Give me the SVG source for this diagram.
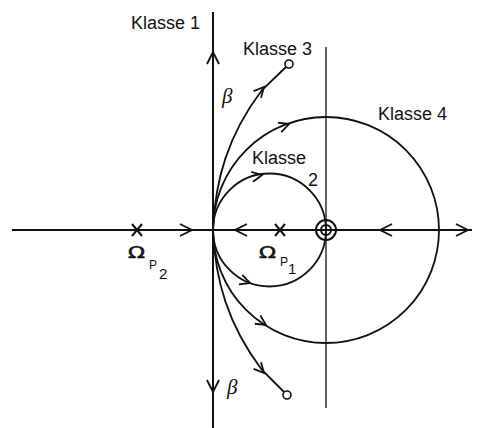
<svg xmlns="http://www.w3.org/2000/svg" xmlns:xlink="http://www.w3.org/1999/xlink" width="479" height="428" viewBox="0 0 479 428">
<style>
.ax{stroke:#111;stroke-width:2;fill:none}
.thin{stroke:#111;stroke-width:1.3;fill:none}
.cv{stroke:#111;stroke-width:1.8;fill:none}
.chev{stroke:#111;stroke-width:1.8;fill:none;stroke-linejoin:miter}
.lbl{font-family:"Liberation Sans",Arial,sans-serif;font-size:18px;fill:#111}
.beta{font-family:"Liberation Serif","Times New Roman",serif;font-style:italic;font-size:21px;fill:#111}
.om{font-family:"DejaVu Sans",sans-serif;font-size:15.5px;fill:#111;stroke:#111;stroke-width:0.5}
.sub{font-family:"Liberation Sans",Arial,sans-serif;font-size:12px;fill:#111}
.sub2{font-family:"Liberation Sans",Arial,sans-serif;font-size:15px;fill:#111}
</style>
<defs>
<path id="chv" d="M-12,-6 L0,0 L-12,6"/>
<path id="chs" d="M-10,-5 L0,0 L-10,5"/>
<path id="xm" d="M-5,-6 L5,6 M-5,6 L5,-6"/>
</defs>
<g id="connectors">
<line class="ax" x1="12" y1="230" x2="472" y2="230"/>
<line class="ax" x1="213" y1="12" x2="213" y2="428"/>
<line class="thin" x1="326" y1="47" x2="326" y2="408"/>
<circle class="cv" cx="269.5" cy="230" r="56.5"/>
<circle class="cv" cx="326" cy="230" r="113"/>
<path class="cv" d="M213,230 C215,180 228,135 262,90 L286,67"/>
<path class="cv" d="M213,230 C215,280 228,325 262,370 L284,392"/>
<g class="chev">
<use xlink:href="#chv" transform="translate(192,230)"/>
<use xlink:href="#chv" transform="translate(235,230) rotate(180)"/>
<use xlink:href="#chv" transform="translate(380,230) rotate(180)"/>
<use xlink:href="#chv" transform="translate(468,230)"/>
<use xlink:href="#chv" transform="translate(213,52) rotate(-90)"/>
<use xlink:href="#chv" transform="translate(213,392) rotate(90)"/>
<use xlink:href="#chs" transform="translate(264,87) rotate(-48)"/>
<use xlink:href="#chs" transform="translate(264,373) rotate(48)"/>
<use xlink:href="#chs" transform="translate(262,175) rotate(-10)"/>
<use xlink:href="#chs" transform="translate(250,283) rotate(20)"/>
<use xlink:href="#chs" transform="translate(289,124) rotate(-20)"/>
<use xlink:href="#chs" transform="translate(266,325) rotate(33)"/>
</g>
</g>
<g id="pole-p2"><use xlink:href="#xm" class="ax" transform="translate(137,230)"/></g>
<g id="pole-p1"><use xlink:href="#xm" class="ax" transform="translate(280,230)"/></g>
<g id="zero">
<circle class="ax" cx="326" cy="230" r="10"/>
<circle class="ax" cx="326" cy="230" r="5"/>
</g>
<g id="end-top"><circle cx="289" cy="64" r="4" fill="#fff" stroke="#111" stroke-width="1.6"/></g>
<g id="end-bottom"><circle cx="287" cy="395" r="4" fill="#fff" stroke="#111" stroke-width="1.6"/></g>
<g id="labels">
<text class="lbl" x="131" y="29">Klasse 1</text>
<text class="lbl" x="243" y="55">Klasse 3</text>
<text class="lbl" x="378" y="120">Klasse  4</text>
<text class="lbl" x="252" y="164">Klasse</text>
<text class="lbl" x="308" y="186">2</text>
<text class="beta" x="222" y="103">β</text>
<text class="beta" x="227" y="394">β</text>
<text class="om" x="128" y="258" textLength="17" lengthAdjust="spacingAndGlyphs">Ω</text>
<text class="sub" x="149" y="269">P</text>
<text class="sub2" x="159" y="279">2</text>
<text class="om" x="259" y="258" textLength="17" lengthAdjust="spacingAndGlyphs">Ω</text>
<text class="sub" x="280" y="266">P</text>
<text class="sub2" x="288" y="274">1</text>
</g>
</svg>
